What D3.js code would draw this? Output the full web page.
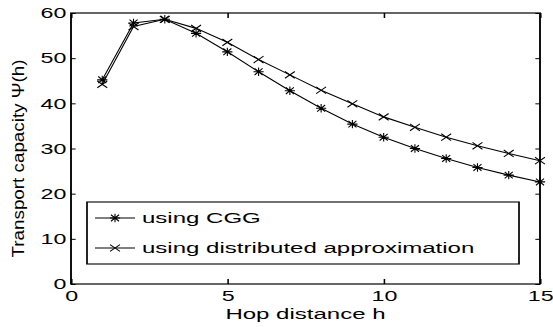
<!DOCTYPE html>
<html lang="en">
<head>
  <meta charset="UTF-8" />
  <title>Transport capacity vs hop distance</title>
  <script src="https://d3js.org/d3.v7.min.js"></script>
  <style>
    body { margin: 0; background: #fff; }
    text { font-family: "Liberation Sans", Arial, sans-serif; fill: #000; }
  </style>
</head>
<body>
  <div id="chart"></div>
  <script>
    // data
    const hops = [1, 2, 3, 4, 5, 6, 7, 8, 9, 10, 11, 12, 13, 14, 15];
    const cggValues = [45.2, 57.8, 58.6, 55.5, 51.4, 47.0, 42.8, 38.9, 35.4, 32.5, 30.0, 27.8, 25.8, 24.1, 22.6];
    const distValues = [44.2, 57.0, 58.6, 56.6, 53.5, 49.7, 46.3, 42.9, 39.9, 37.0, 34.7, 32.5, 30.6, 28.9, 27.3];
    const xTicks = [0, 5, 10, 15];
    const yTicks = [0, 10, 20, 30, 40, 50, 60];
    const seriesNames = ["using CGG", "using distributed approximation"];

    const W = 553, H = 327;
    const SX = 1.55; // the figure is stretched horizontally
    const box = { left: 71, right: 540, top: 13, bottom: 284 };

    const svg = d3.select("#chart").append("svg")
      .attr("width", W)
      .attr("height", H);

    // y label lives outside the stretched group
    svg.append("text")
      .attr("transform", `translate(24,${(box.top + box.bottom) / 2 + 10}) rotate(-90)`)
      .attr("text-anchor", "middle")
      .attr("textLength", 198)
      .attr("lengthAdjust", "spacingAndGlyphs")
      .style("font-size", "16px")
      .text("Transport capacity \u03A8(h)");

    const g = svg.append("g").attr("transform", `scale(${SX},1)`);

    const x = d3.scaleLinear().domain([0, 15]).range([box.left / SX, box.right / SX]);
    const y = d3.scaleLinear().domain([0, 60]).range([box.bottom, box.top]);

    // axes, MATLAB style ticks pointing inward
    const xb = g.append("g")
      .attr("transform", `translate(0,${box.bottom})`)
      .call(d3.axisBottom(x).tickValues(xTicks).tickSizeInner(-5).tickSizeOuter(0).tickPadding(6));
    const xt = g.append("g")
      .attr("transform", `translate(0,${box.top})`)
      .call(d3.axisTop(x).tickValues(xTicks).tickSizeInner(-5).tickSizeOuter(0).tickFormat(""));
    const yl = g.append("g")
      .attr("transform", `translate(${box.left / SX},0)`)
      .call(d3.axisLeft(y).tickValues(yTicks).tickSizeInner(-3).tickSizeOuter(0).tickPadding(3));
    const yr = g.append("g")
      .attr("transform", `translate(${box.right / SX},0)`)
      .call(d3.axisRight(y).tickValues(yTicks).tickSizeInner(-3).tickSizeOuter(0).tickFormat(""));

    [xb, xt, yl, yr].forEach(a => {
      a.select(".domain").remove();
      a.selectAll("line").attr("stroke", "#000");
      a.selectAll("text")
        .attr("fill", "#000")
        .style("font-size", "15px")
        .style("font-family", "'Liberation Sans', Arial, sans-serif");
    });

    g.append("rect")
      .attr("x", x(0))
      .attr("y", y(60))
      .attr("width", x(15) - x(0))
      .attr("height", y(0) - y(60))
      .attr("fill", "none")
      .attr("stroke", "#000")
      .attr("stroke-width", 1.2);

    g.append("text")
      .attr("x", x(7.5))
      .attr("y", 319)
      .attr("text-anchor", "middle")
      .style("font-size", "15.5px")
      .text("Hop distance h");

    // marker shapes
    const starPath = "M-3.3,0H3.3M0,-4.2V4.2M-2.6,-3.3L2.6,3.3M-2.6,3.3L2.6,-3.3";
    const crossPath = "M-3.2,-3.4L3.2,3.4M-3.2,3.4L3.2,-3.4";

    const series = [
      { name: seriesNames[0], values: cggValues, marker: starPath },
      { name: seriesNames[1], values: distValues, marker: crossPath }
    ];

    const line = d3.line().x((d, i) => x(hops[i])).y(d => y(d));

    series.forEach(s => {
      g.append("path")
        .datum(s.values)
        .attr("fill", "none")
        .attr("stroke", "#000")
        .attr("stroke-width", 1.1)
        .attr("vector-effect", "non-scaling-stroke")
        .attr("d", line);

      g.selectAll(null)
        .data(s.values)
        .enter()
        .append("path")
        .attr("transform", (d, i) => `translate(${x(hops[i])},${y(d)})`)
        .attr("d", s.marker)
        .attr("fill", "none")
        .attr("stroke", "#000")
        .attr("stroke-width", 1.1)
        .attr("vector-effect", "non-scaling-stroke");
    });

    // legend
    const leg = g.append("g");
    leg.append("rect")
      .attr("x", 87 / SX)
      .attr("y", 202)
      .attr("width", (519 - 87) / SX)
      .attr("height", 62)
      .attr("fill", "#fff")
      .attr("stroke", "#000")
      .attr("stroke-width", 1.1);

    series.forEach((s, i) => {
      const ly = 218 + i * 30;
      leg.append("line")
        .attr("x1", 95 / SX).attr("x2", 135 / SX)
        .attr("y1", ly).attr("y2", ly)
        .attr("stroke", "#000")
        .attr("stroke-width", 1.1)
        .attr("vector-effect", "non-scaling-stroke");
      leg.append("path")
        .attr("transform", `translate(${115 / SX},${ly})`)
        .attr("d", s.marker)
        .attr("fill", "none")
        .attr("stroke", "#000")
        .attr("stroke-width", 1.1)
        .attr("vector-effect", "non-scaling-stroke");
      leg.append("text")
        .attr("x", 142 / SX)
        .attr("y", ly + 5.5)
        .style("font-size", "15.5px")
        .text(s.name);
    });
  </script>
</body>
</html>
